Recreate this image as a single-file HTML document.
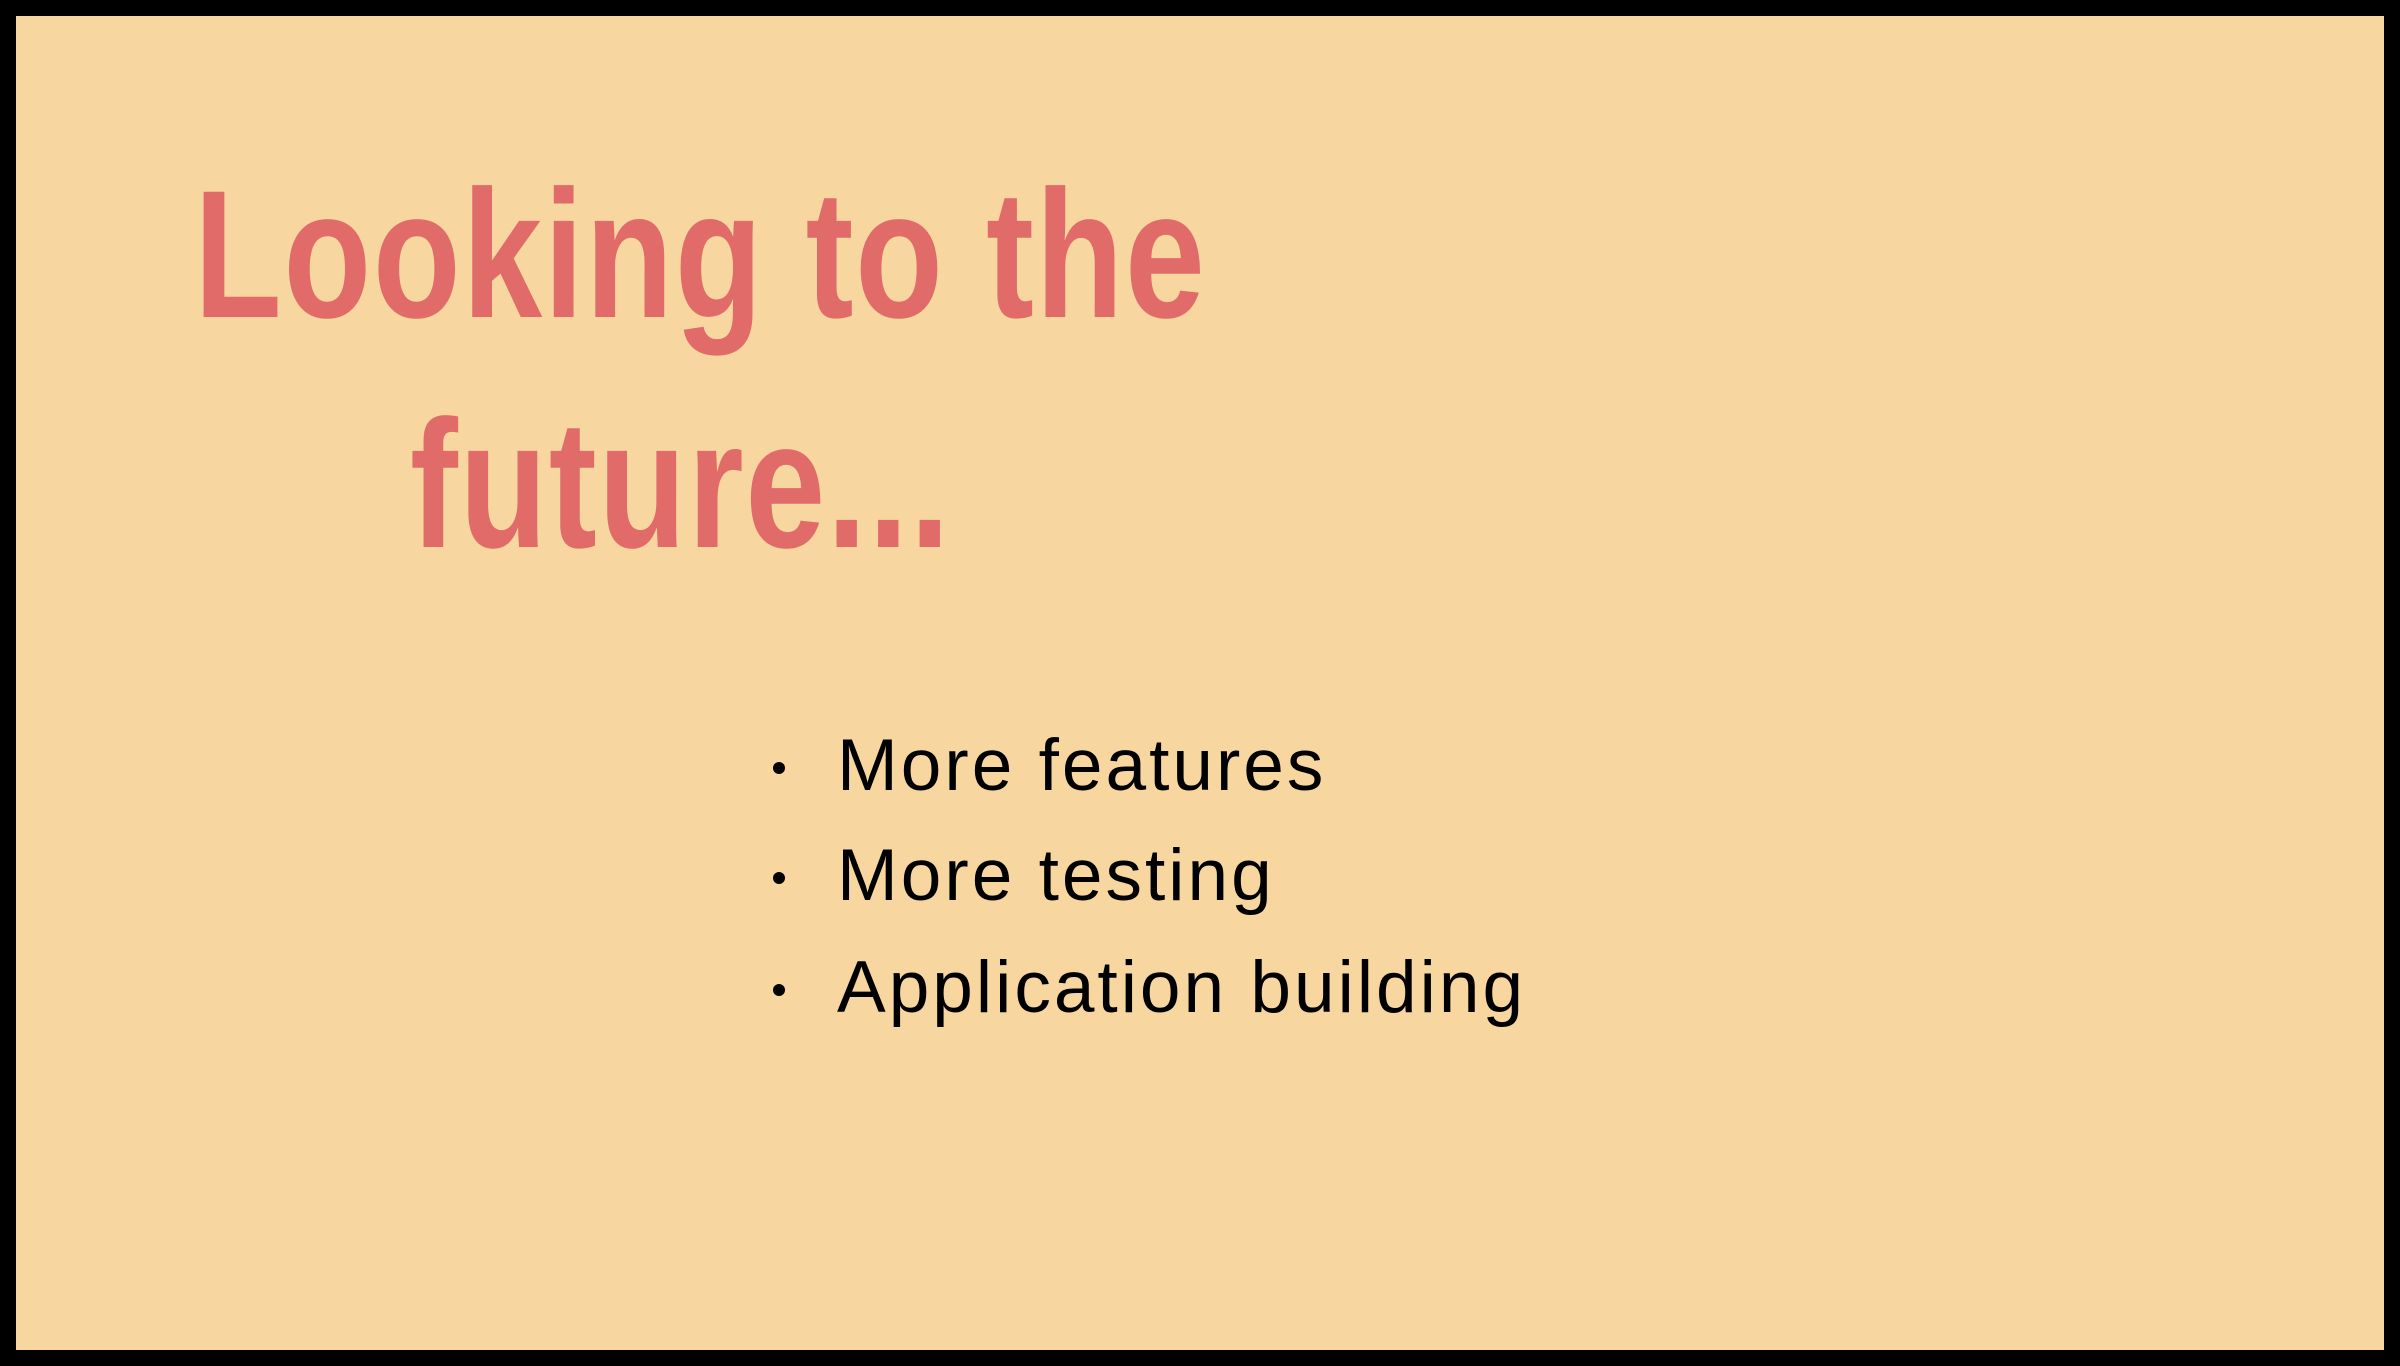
<!DOCTYPE html>
<html><head><meta charset="utf-8"><style>
html,body{margin:0;padding:0}
body{width:2400px;height:1366px;background:#000;position:relative;overflow:hidden;font-family:"Liberation Sans",sans-serif}
.bg{position:absolute;left:16px;top:16px;width:2368px;height:1334px;background:#f7d6a0}
.t{position:absolute;color:#e06b68;font-weight:bold;font-size:182px;line-height:1;white-space:nowrap;transform-origin:0 0;transform:scaleX(0.79);letter-spacing:2px}
.b{position:absolute;left:837px;font-size:73px;line-height:1;color:#000;white-space:nowrap;letter-spacing:3px}
.d{position:absolute;left:773px;width:12px;height:12px;border-radius:50%;background:#000}
</style></head><body>
<div class="bg"></div>
<div class="t" style="left:194px;top:163px">Looking to the</div>
<div class="t" style="left:410px;top:393px">future...</div>
<div class="d" style="top:762px"></div>
<div class="d" style="top:872px"></div>
<div class="d" style="top:984px"></div>
<div class="b" style="top:729px">More features</div>
<div class="b" style="top:839px">More testing</div>
<div class="b" style="top:951px">Application building</div>
</body></html>
